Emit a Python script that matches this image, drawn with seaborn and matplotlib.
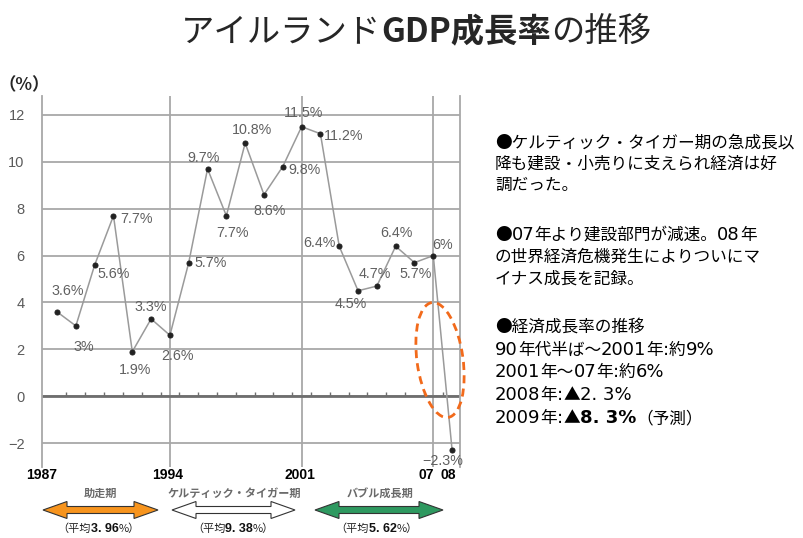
import re
import numpy as np
import pandas as pd
import matplotlib
matplotlib.use("Agg")
import matplotlib.pyplot as plt
import seaborn as sns
from matplotlib.patches import Polygon, Ellipse

# ---------------- data ----------------
year_index = list(range(22))  # 1987 ... 2008 (as drawn)
growth = [3.6, 3.0, 5.6, 7.7, 1.9, 3.3, 2.6, 5.7, 9.7, 7.7, 10.8,
          8.6, 9.8, 11.5, 11.2, 6.4, 4.5, 4.7, 6.4, 5.7, 6.0, -2.3]
year_labels = ["1987", "1994", "2001", "07", "08"]
year_label_pos = [-0.8, 5.86, 12.93, 19.63, 20.79]
grid_x = [6, 13, 20]
yticks = [-2, 0, 2, 4, 6, 8, 10, 12]
periods = ["助走期", "ケルティック・タイガー期", "バブル成長期"]
period_avg = ["3. 96", "9. 38", "5. 62"]
period_colors = ["#F7941D", "#FFFFFF", "#2E9960"]

# label offsets in pixels (x right, y down)
label_offsets = [(11, -21), (8, 21), (19, 9), (23, 3), (3, 18), (0, -12), (8, 21),
                 (22, 0), (-4, -11), (6, 17), (7, -13), (6, 16), (22, 3), (2, -14),
                 (23, 2), (-20, -3), (-7, 13), (-2, -12), (1, -13), (1, 11), (9, -11),
                 (-9, 11)]

W, H, DPI = 804, 538, 100
JP = ["Noto Sans CJK JP", "DejaVu Sans"]
LAT = ["Liberation Sans", "DejaVu Sans"]
NUM = ["DejaVu Sans"]

sns.set_theme(style="white")
plt.rcParams["font.family"] = JP

fig = plt.figure(figsize=(W / DPI, H / DPI), dpi=DPI)
fig.patch.set_facecolor("white")

ax_l, ax_r, ax_t, ax_b = 42, 460, 96, 467
ax = fig.add_axes([ax_l / W, 1 - ax_b / H, (ax_r - ax_l) / W, (ax_b - ax_t) / H])

df = pd.DataFrame({"idx": year_index, "growth": growth})
sns.lineplot(data=df, x="idx", y="growth", ax=ax, color="#9a9a9a", lw=1.1,
             marker="o", markersize=3.6, markerfacecolor="#222222",
             markeredgecolor="#222222", zorder=5)

ax.set_xlim(-0.47, 21.42)
ax.set_ylim(-3.02, 12.81)

# grid / frame
ax.set_yticks(yticks)
ax.grid(axis="y", color="#a8a8a8", lw=1.3)
for gx in grid_x:
    ax.axvline(gx, color="#a8a8a8", lw=1.3, zorder=1)
for s in ["top", "bottom"]:
    ax.spines[s].set_visible(False)
for s in ["left", "right"]:
    ax.spines[s].set_color("#a8a8a8")
    ax.spines[s].set_linewidth(1.3)
ax.axhline(0, color="#6e6e6e", lw=2, zorder=2)
ax.vlines(np.arange(0.5, 21, 1), 0, 4 / 23.43, color="#6e6e6e", lw=1, zorder=2)

ax.set_xticks(year_label_pos)
ax.set_xticklabels(year_labels, fontweight="bold", fontsize=10, color="black",
                   family=LAT)
ax.tick_params(axis="x", length=0, pad=1)
ax.tick_params(axis="y", length=0, pad=12.5)
for t in ax.get_yticklabels():
    t.set_family(LAT)
    t.set_fontsize(10.5)
    t.set_color("#5a5a5a")
ax.set_xlabel("")
ax.set_ylabel("")

# data labels
for i, v in enumerate(growth):
    txt = ("\u2212" if v < 0 else "") + f"{abs(v):g}%"
    dx, dy = label_offsets[i]
    ax.annotate(txt, (year_index[i], v), xytext=(dx, -dy), textcoords="offset pixels",
                ha="center", va="center", fontsize=10.3, color="#606060", family=LAT,
                zorder=6)

fig.text(-1 / W, 1 - 85 / H, "（%）", fontsize=12.5, fontweight="bold", va="center",
         ha="left", family=JP)

TR = fig.dpi_scale_trans


def px(x, y):
    return (x / DPI, (H - y) / DPI)


def rich_text(xc, ybase, pieces, ha="center"):
    r = fig.canvas.get_renderer()
    objs, cur = [], 0.0
    for s, kw in pieces:
        t = fig.text(0, 0, s, transform=TR, va="baseline", ha="left", **kw)
        w = t.get_window_extent(r).width
        objs.append((t, cur))
        cur += w
    start = xc - cur / 2 if ha == "center" else xc
    for t, off in objs:
        t.set_position(px(start + off, ybase))


def mixed(s, weight="normal", size_jp=12, size_num=13, color="black"):
    out = []
    for m in re.finditer(r"[0-9.:% ]+|[^0-9.:% ]+", s):
        seg = m.group()
        if re.match(r"[0-9.:% ]", seg):
            out.append((seg, dict(fontsize=size_num, family=NUM, fontweight=weight,
                                  color=color)))
        else:
            out.append((seg, dict(fontsize=size_jp, family=JP, fontweight=weight,
                                  color=color)))
    return out


# title
rich_text(416, 41, [("アイルランド", dict(fontsize=24, family=JP)),
                    ("GDP成長率", dict(fontsize=24, family=JP, fontweight="bold")),
                    ("の推移", dict(fontsize=24, family=JP))])

# right text
right_lines = [
    (147, "●ケルティック・タイガー期の急成長以"),
    (168.5, "降も建設・小売りに支えられ経済は好"),
    (190, "調だった。"),
    (240, "●07年より建設部門が減速。08年"),
    (262, "の世界経済危機発生によりついにマ"),
    (284, "イナス成長を記録。"),
    (332, "●経済成長率の推移"),
    (355, "90年代半ば〜2001年:約9%"),
    (377, "2001年〜07年:約6%"),
    (400, "2008年:▲2. 3%"),
]
for yb, s in right_lines:
    rich_text(495, yb, mixed(s), ha="left")
rich_text(495, 423, mixed("2009年:▲") + mixed("8. 3%", weight="bold")
          + mixed("（予測）"), ha="left")

# ellipse highlight
fig.add_artist(Ellipse(px(440, 360), width=1.16, height=0.46, angle=-82, transform=TR,
                       fill=False, edgecolor="#F26A1B", lw=2,
                       linestyle=(0, (2.9, 1.9))))


# period arrows
def double_arrow(x0, x1, yc, color, shaft=7, head=17, hl=24):
    pts = [(x0, yc), (x0 + hl, yc - head / 2), (x0 + hl, yc - shaft / 2),
           (x1 - hl, yc - shaft / 2), (x1 - hl, yc - head / 2), (x1, yc),
           (x1 - hl, yc + head / 2), (x1 - hl, yc + shaft / 2),
           (x0 + hl, yc + shaft / 2), (x0 + hl, yc + head / 2)]
    fig.add_artist(Polygon([px(a, b) for a, b in pts], closed=True, transform=TR,
                           facecolor=color, edgecolor="#333333", lw=0.8))


arrow_spans = [(43, 158), (172, 295), (315, 443)]
label_cx = [100, 234, 380]
avg_cx = [99, 233, 377]
for i, name in enumerate(periods):
    x0, x1 = arrow_spans[i]
    double_arrow(x0, x1, 510, period_colors[i])
    fig.text(*px(label_cx[i], 493), name, transform=TR, fontsize=8, fontweight="bold",
             color="#6a6a6a", ha="center", va="center", family=JP)
    rich_text(avg_cx[i], 532, [("（平均", dict(fontsize=8, family=JP, color="#222222")),
                               (period_avg[i], dict(fontsize=9, family=LAT,
                                                    fontweight="bold", color="#111111")),
                               ("%）", dict(fontsize=8, family=JP, color="#222222"))])

fig.savefig("out.png", dpi=DPI)
